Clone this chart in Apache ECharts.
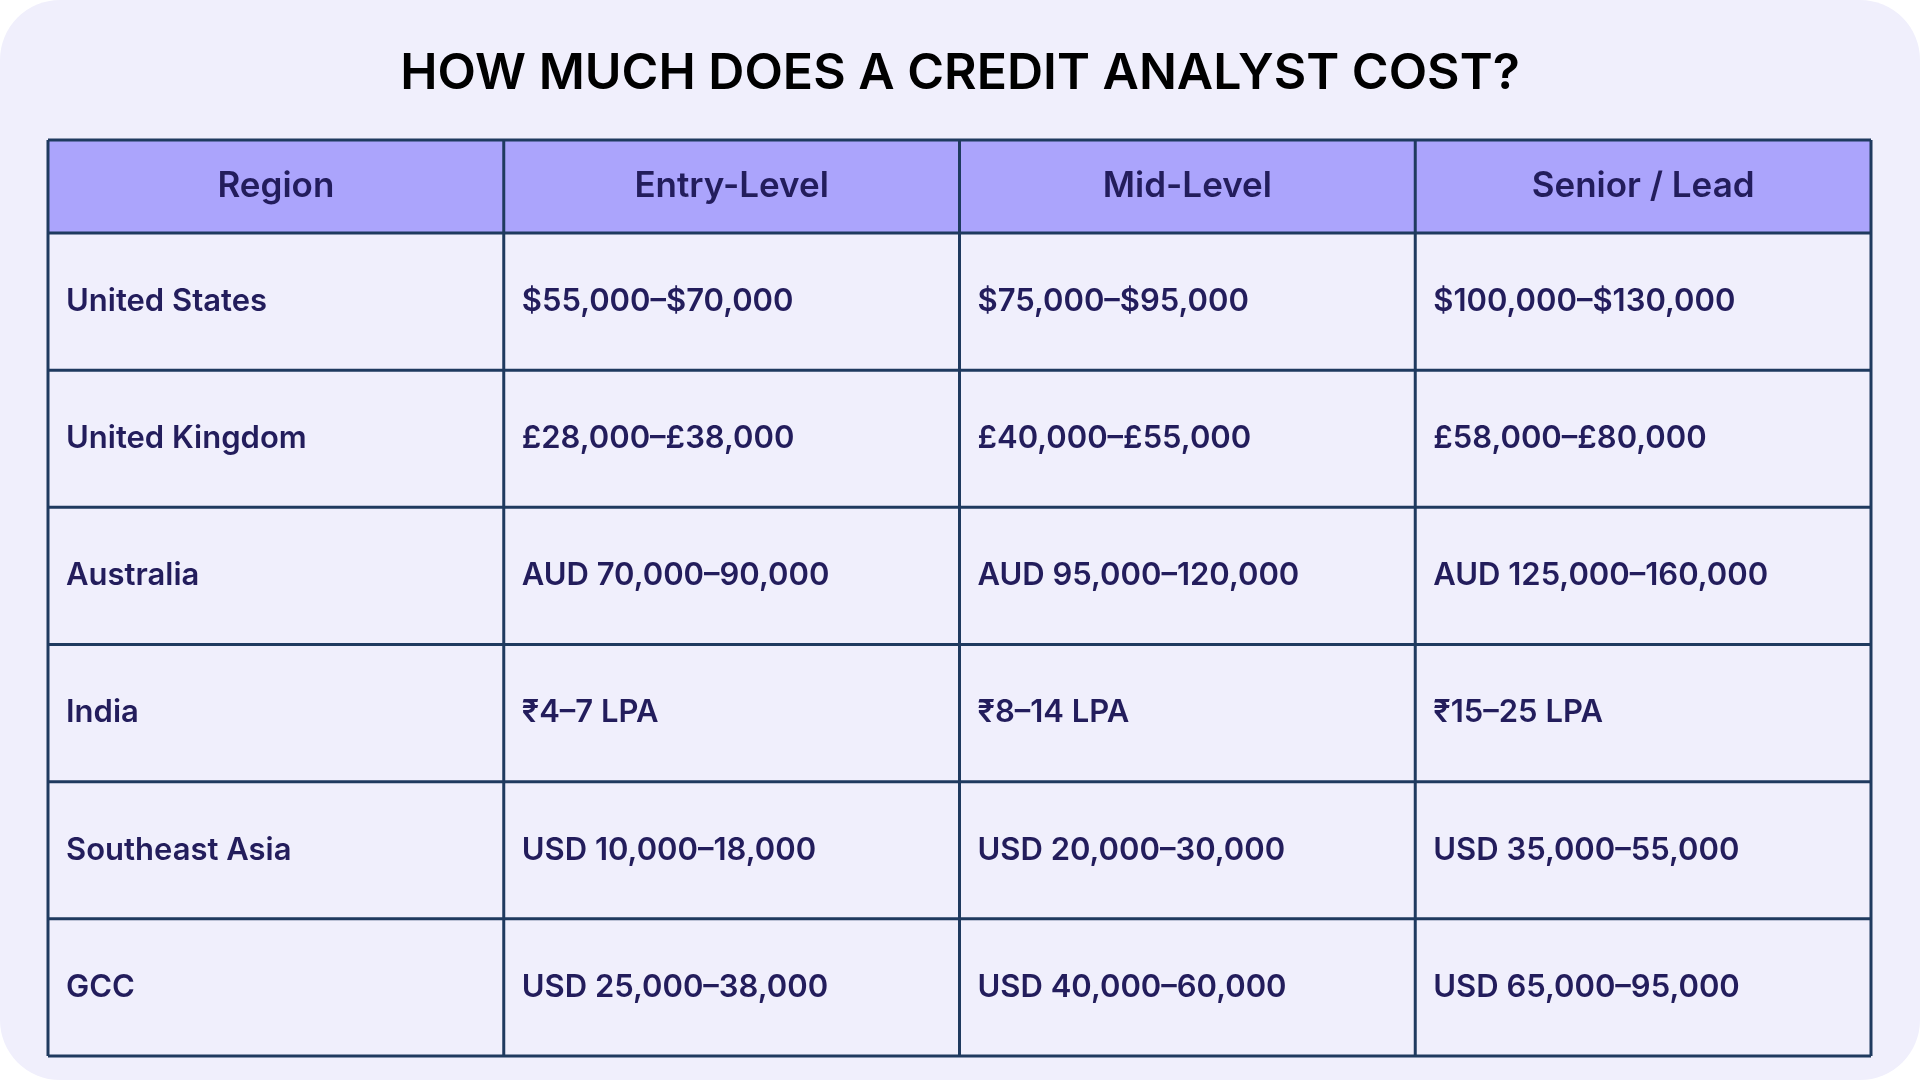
<!DOCTYPE html>
<html><head><meta charset="utf-8">
<script src="https://cdn.jsdelivr.net/npm/echarts@6/dist/echarts.min.js"></script>
<style>html,body{margin:0;padding:0;background:#fff}#c{width:1920px;height:1080px}</style>
</head><body><div id="c"></div>
<script>
const title = 'HOW MUCH DOES A CREDIT ANALYST COST?';
const headers = ['Region', 'Entry-Level', 'Mid-Level', 'Senior / Lead'];
const regions = ['United States', 'United Kingdom', 'Australia', 'India', 'Southeast Asia', 'GCC'];
const entryLevel = ['$55,000–$70,000', '£28,000–£38,000', 'AUD 70,000–90,000', '₹4–7 LPA', 'USD 10,000–18,000', 'USD 25,000–38,000'];
const midLevel = ['$75,000–$95,000', '£40,000–£55,000', 'AUD 95,000–120,000', '₹8–14 LPA', 'USD 20,000–30,000', 'USD 40,000–60,000'];
const seniorLevel = ['$100,000–$130,000', '£58,000–£80,000', 'AUD 125,000–160,000', '₹15–25 LPA', 'USD 35,000–55,000', 'USD 65,000–95,000'];

const chart = echarts.init(document.getElementById('c'), null, {renderer: 'canvas'});
const L = 48, R = 1871, T = 140, HB = 233, B = 1056;
const colW = (R - L) / 4, rowH = (B - HB) / regions.length;
const font = 'Inter, "Noto Sans", sans-serif';
const g = [];
g.push({type: 'rect', shape: {x: 0, y: 0, width: 1920, height: 1080, r: 60}, style: {fill: '#f0effc'}});
g.push({type: 'text', style: {x: 960, y: 74, text: title, fill: '#000', font: '600 50px ' + font, textAlign: 'center', textVerticalAlign: 'middle'}});
g.push({type: 'rect', shape: {x: L, y: T, width: R - L, height: HB - T}, style: {fill: '#aba4fc'}});
headers.forEach((h, i) => g.push({type: 'text', style: {x: L + colW * (i + 0.5), y: (T + HB) / 2, text: h, fill: '#231d5c', font: '600 35px ' + font, textAlign: 'center', textVerticalAlign: 'middle'}}));
const cols = [regions, entryLevel, midLevel, seniorLevel];
cols.forEach((col, ci) => col.forEach((v, ri) => g.push({type: 'text', style: {x: L + colW * ci + 18, y: HB + rowH * (ri + 0.5), text: v, fill: '#231d5c', font: '600 31px ' + font, textAlign: 'left', textVerticalAlign: 'middle'}})));
const lc = '#1f3a5f';
for (let i = 0; i <= 4; i++) g.push({type: 'line', shape: {x1: L + colW * i, y1: T, x2: L + colW * i, y2: B}, style: {stroke: lc, lineWidth: 3}});
g.push({type: 'line', shape: {x1: L, y1: T, x2: R, y2: T}, style: {stroke: lc, lineWidth: 3}});
for (let j = 0; j <= regions.length; j++) g.push({type: 'line', shape: {x1: L, y1: HB + rowH * j, x2: R, y2: HB + rowH * j}, style: {stroke: lc, lineWidth: 3}});
chart.setOption({animation: false, graphic: {elements: g}});
</script></body></html>
